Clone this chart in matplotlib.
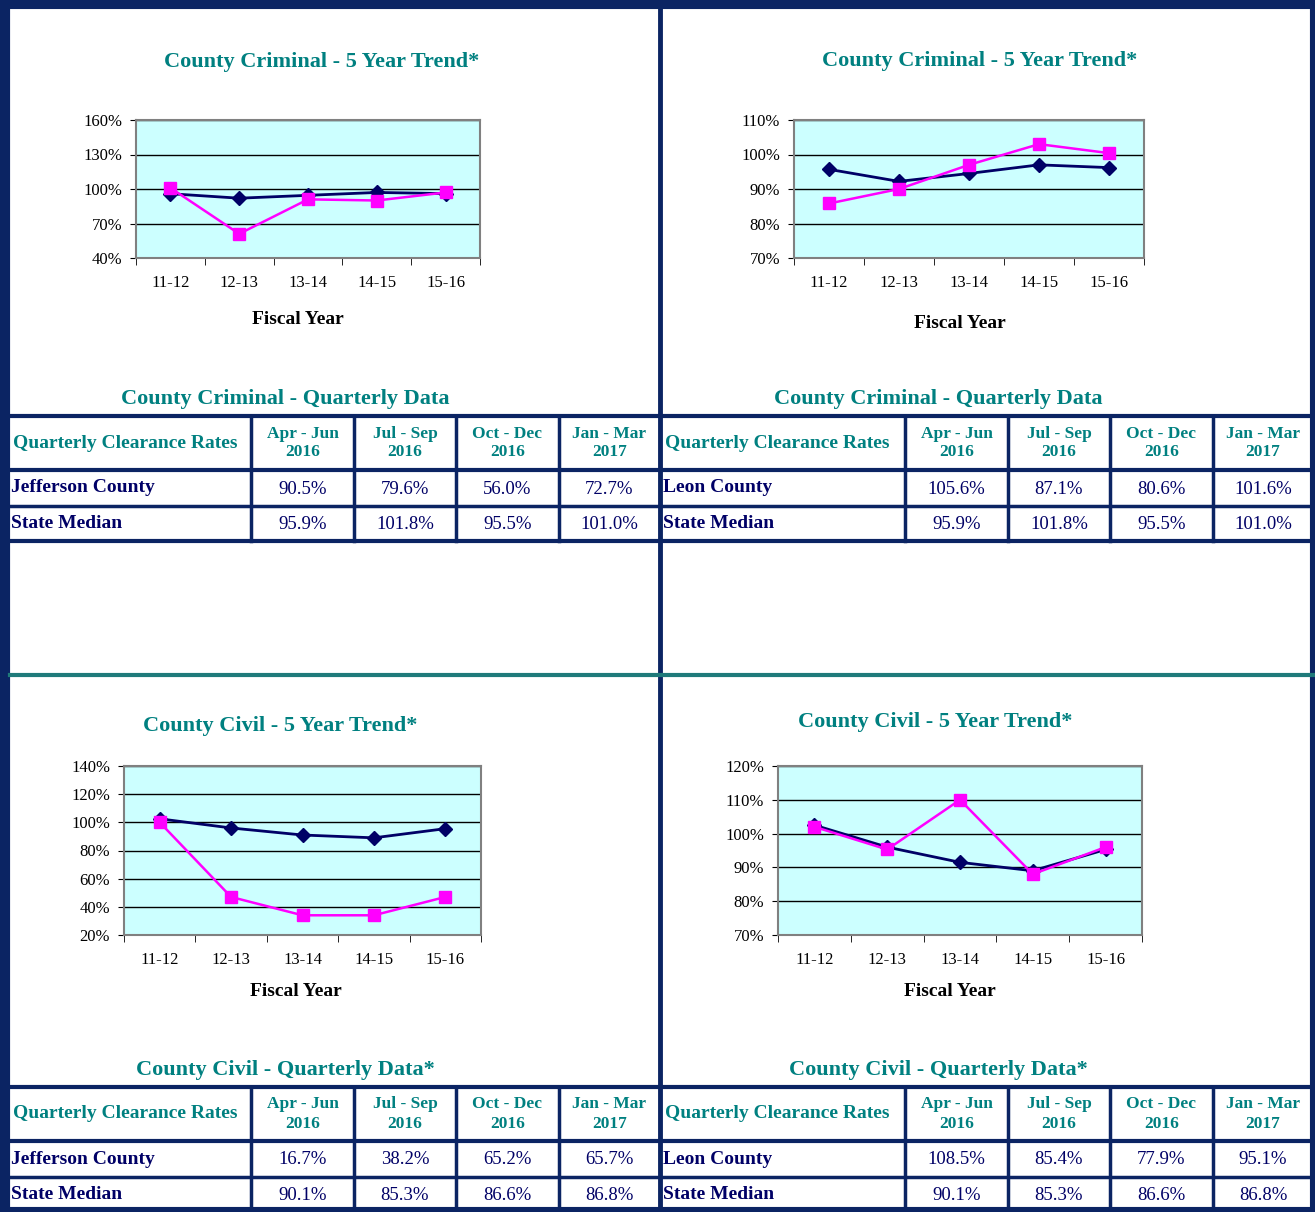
import matplotlib.pyplot as plt

plt.rcParams['font.family'] = ['Liberation Serif', 'DejaVu Serif']

years = ["11-12", "12-13", "13-14", "14-15", "15-16"]

crim_state = [95.9, 92.0, 94.5, 97.0, 96.0]
crim_jefferson = [101.0, 61.0, 91.0, 90.0, 97.0]
crim_state2 = [95.7, 92.2, 94.5, 97.0, 96.2]
crim_leon = [85.8, 90.0, 97.0, 103.0, 100.4]
civil_state = [102.5, 96.0, 91.0, 89.0, 95.5]
civil_jefferson = [100.0, 47.0, 34.0, 34.0, 47.0]
civil_state2 = [102.5, 96.0, 91.5, 89.0, 95.3]
civil_leon = [102.0, 95.3, 110.0, 88.0, 96.0]

quarters = ["Apr - Jun\n2016", "Jul - Sep\n2016", "Oct - Dec\n2016", "Jan - Mar\n2017"]
crim_jeff_q = ["90.5%", "79.6%", "56.0%", "72.7%"]
crim_leon_q = ["105.6%", "87.1%", "80.6%", "101.6%"]
crim_state_q = ["95.9%", "101.8%", "95.5%", "101.0%"]
civil_jeff_q = ["16.7%", "38.2%", "65.2%", "65.7%"]
civil_leon_q = ["108.5%", "85.4%", "77.9%", "95.1%"]
civil_state_q = ["90.1%", "85.3%", "86.6%", "86.8%"]

W, H = 1315, 1212
TEAL = "#008080"
NAVY = "#000066"
BORDER = "#0b2463"

fig = plt.figure(figsize=(W / 100, H / 100), dpi=100)
bg = fig.add_axes([0, 0, 1, 1])
bg.set_xlim(0, W)
bg.set_ylim(H, 0)
bg.axis("off")


def chart(box, county, state, ylim, step, title, tpos, fpos):
    x0, y0, x1, y1 = box
    ax = fig.add_axes([x0 / W, 1 - y1 / H, (x1 - x0) / W, (y1 - y0) / H])
    ax.set_facecolor("#ccffff")
    xs = range(len(years))
    ax.plot(xs, state, color=NAVY, lw=2, marker="D", ms=7, zorder=3)
    ax.plot(xs, county, color="#ff00ff", lw=1.8, marker="s", ms=9, zorder=4)
    ax.set_xlim(-0.5, 4.5)
    ax.set_ylim(*ylim)
    ticks = list(range(ylim[0], ylim[1] + 1, step))
    ax.set_yticks(ticks)
    ax.set_yticklabels([f"{t}%" for t in ticks], fontsize=12)
    ax.set_xticks(list(xs))
    ax.set_xticklabels(years, fontsize=12)
    ax.set_xticks([i + 0.5 for i in range(-1, 5)], minor=True)
    ax.tick_params(axis="x", which="major", length=0, pad=12)
    ax.tick_params(axis="x", which="minor", length=5)
    ax.tick_params(axis="y", length=4, pad=6)
    ax.grid(axis="y", color="black", lw=1)
    for s in ax.spines.values():
        s.set_color("#808080")
        s.set_linewidth(1.5)
    bg.text(*tpos, title, color=TEAL, fontsize=16, fontweight="bold", ha="center", va="center")
    bg.text(*fpos, "Fiscal Year", color="black", fontsize=14, fontweight="bold", ha="center", va="center")


def table(xcols, ytop, title, tx, county_name, county_vals, state_vals):
    yh, y1, y2 = ytop + 54, ytop + 90, ytop + 125
    bg.text(tx, ytop - 17, title, color=TEAL, fontsize=16, fontweight="bold", ha="center", va="center")
    for y, lw in [(ytop, 3), (yh, 3), (y1, 2.5), (y2, 3)]:
        bg.plot([xcols[0], xcols[-1]], [y, y], color=BORDER, lw=lw)
    for x in xcols[1:-1]:
        bg.plot([x, x], [ytop, y2], color=BORDER, lw=2.5)
    bg.text(xcols[0] + 3, (ytop + yh) / 2, "Quarterly Clearance Rates", color=TEAL, fontsize=14,
            fontweight="bold", va="center")
    for i, q in enumerate(quarters):
        cx = (xcols[i + 1] + xcols[i + 2]) / 2
        bg.text(cx, (ytop + yh) / 2, q, color=TEAL, fontsize=12.5, fontweight="bold",
                ha="center", va="center", linespacing=1.25)
    for (ya, yb), name, vals in [((yh, y1), county_name, county_vals), ((y1, y2), "State Median", state_vals)]:
        bg.text(xcols[0] + 1, (ya + yb) / 2, name, color=NAVY, fontsize=14, fontweight="bold", va="center")
        for i, v in enumerate(vals):
            cx = (xcols[i + 1] + xcols[i + 2]) / 2
            bg.text(cx, (ya + yb) / 2 + 1, v, color=NAVY, fontsize=13.5, ha="center", va="center")


chart((136, 120, 480, 258), crim_jefferson, crim_state, (40, 160), 30,
      "County Criminal - 5 Year Trend*", (322, 62), (298, 320))
chart((794, 120, 1144, 258), crim_leon, crim_state2, (70, 110), 10,
      "County Criminal - 5 Year Trend*", (980, 61), (960, 324))
chart((124, 766, 481, 935), civil_jefferson, civil_state, (20, 140), 20,
      "County Civil - 5 Year Trend*", (280, 726), (296, 991))
chart((778, 766, 1142, 935), civil_leon, civil_state2, (70, 120), 10,
      "County Civil - 5 Year Trend*", (935, 722), (950, 992))

left_cols = [10, 251, 354, 456, 559, 660]
right_cols = [662, 905, 1008, 1110, 1213, 1313]
table(left_cols, 416, "County Criminal - Quarterly Data", 285, "Jefferson County", crim_jeff_q, crim_state_q)
table(right_cols, 416, "County Criminal - Quarterly Data", 938, "Leon County", crim_leon_q, crim_state_q)
table(left_cols, 1087, "County Civil - Quarterly Data*", 285, "Jefferson County", civil_jeff_q, civil_state_q)
table(right_cols, 1087, "County Civil - Quarterly Data*", 938, "Leon County", civil_leon_q, civil_state_q)

# frame and dividers
bg.plot([0, W, W, 0, 0], [3, 3, H, H, 3], color=BORDER, lw=8, clip_on=False)
bg.plot([8, 8], [0, H], color=BORDER, lw=3)
bg.plot([660, 660], [0, H], color=BORDER, lw=3.5)
bg.plot([10, W], [675, 675], color="#1f7a7a", lw=3)

fig.savefig("out.png", dpi=100)
